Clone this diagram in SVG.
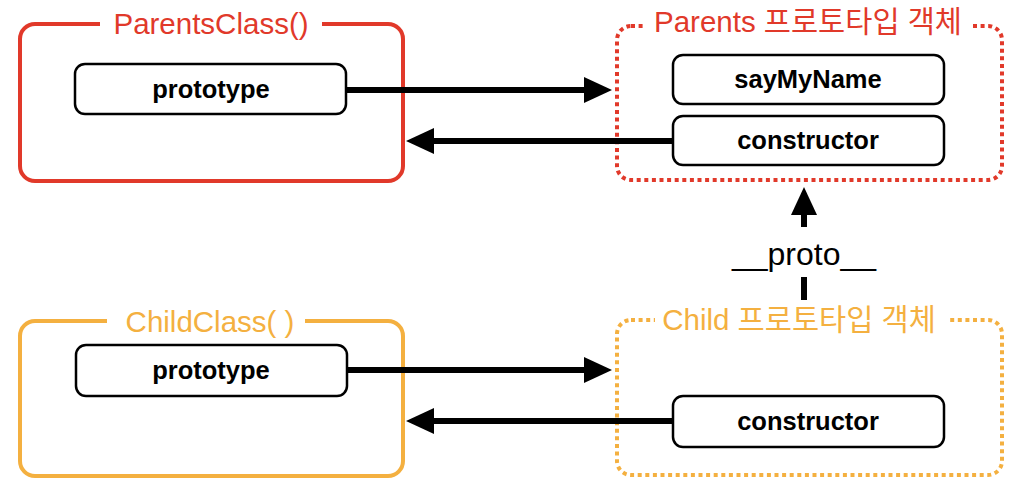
<svg xmlns="http://www.w3.org/2000/svg" width="1032" height="498" viewBox="0 0 1032 498">
<style>
.title{font-family:"Liberation Sans","Noto Sans CJK KR",Arial,sans-serif;font-size:29.5px;text-anchor:middle}
.lbl{font-family:"Liberation Sans",Arial,sans-serif;font-size:25.5px;font-weight:bold;text-anchor:middle;fill:#000}
.item{fill:#fff;stroke:#000;stroke-width:2.5}
.solid{fill:none;stroke-width:4}
.dotted{fill:none;stroke-width:4;stroke-dasharray:4 3.6}
.red{stroke:#E1392A}
.org{stroke:#F4B040}
.conn{stroke:#000;stroke-width:6;fill:none}
</style>
<defs>
<marker id="ah" markerUnits="userSpaceOnUse" markerWidth="28" markerHeight="26" viewBox="0 0 28 26" refX="1" refY="13" orient="auto">
<path d="M0,0 L28,13 L0,26 Z" fill="#000"/>
</marker>
</defs>
<rect width="1032" height="498" fill="#fff"/>

<g id="parentsClass">
<rect class="solid red" x="20" y="24" width="383" height="157" rx="15"/>
<rect x="100" y="8" width="222" height="32" fill="#fff"/>
<text class="title" x="211" y="34" fill="#E1392A">ParentsClass()</text>
<g id="parentsClass-prototype">
<rect class="item" x="75" y="64" width="271" height="50" rx="10"/>
<text class="lbl" x="211" y="98">prototype</text>
</g>
</g>

<g id="parentsProto">
<rect class="dotted red" x="617" y="26" width="385" height="154" rx="14"/>
<rect x="643" y="8" width="330" height="34" fill="#fff"/>
<text class="title" x="808" y="32" fill="#E1392A">Parents 프로토타입 객체</text>
<g id="parentsProto-sayMyName">
<rect class="item" x="673" y="55" width="271" height="49" rx="10"/>
<text class="lbl" x="808" y="88">sayMyName</text>
</g>
<g id="parentsProto-constructor">
<rect class="item" x="673" y="116" width="271" height="49" rx="10"/>
<text class="lbl" x="808" y="149">constructor</text>
</g>
</g>

<g id="childClass">
<rect class="solid org" x="20" y="321" width="383" height="155" rx="15"/>
<rect x="107" y="305" width="198" height="32" fill="#fff"/>
<text class="title" x="210" y="332" fill="#F4B040">ChildClass( )</text>
<g id="childClass-prototype">
<rect class="item" x="76" y="345" width="271" height="51" rx="10"/>
<text class="lbl" x="211" y="379">prototype</text>
</g>
</g>

<g id="childProto">
<rect class="dotted org" x="617" y="320" width="385" height="155" rx="14"/>
<rect x="655" y="303" width="295" height="34" fill="#fff"/>
<text class="title" x="799" y="330" fill="#F4B040">Child 프로토타입 객체</text>
<g id="childProto-constructor">
<rect class="item" x="673" y="396" width="271" height="51" rx="10"/>
<text class="lbl" x="808" y="430">constructor</text>
</g>
</g>

<g id="connectors">
<path class="conn" d="M347,90 L585,90" marker-end="url(#ah)"/>
<path class="conn" d="M672,141 L433,141" marker-end="url(#ah)"/>
<path class="conn" d="M347,370 L585,370" marker-end="url(#ah)"/>
<path class="conn" d="M672,421 L433,421" marker-end="url(#ah)"/>
<path class="conn" d="M804,300 L804,277 M804,227 L804,214" marker-end="url(#ah)"/>
<text x="804" y="265" font-family="Liberation Sans,Arial,sans-serif" font-size="32" text-anchor="middle" fill="#000">__proto__</text>
</g>
</svg>
